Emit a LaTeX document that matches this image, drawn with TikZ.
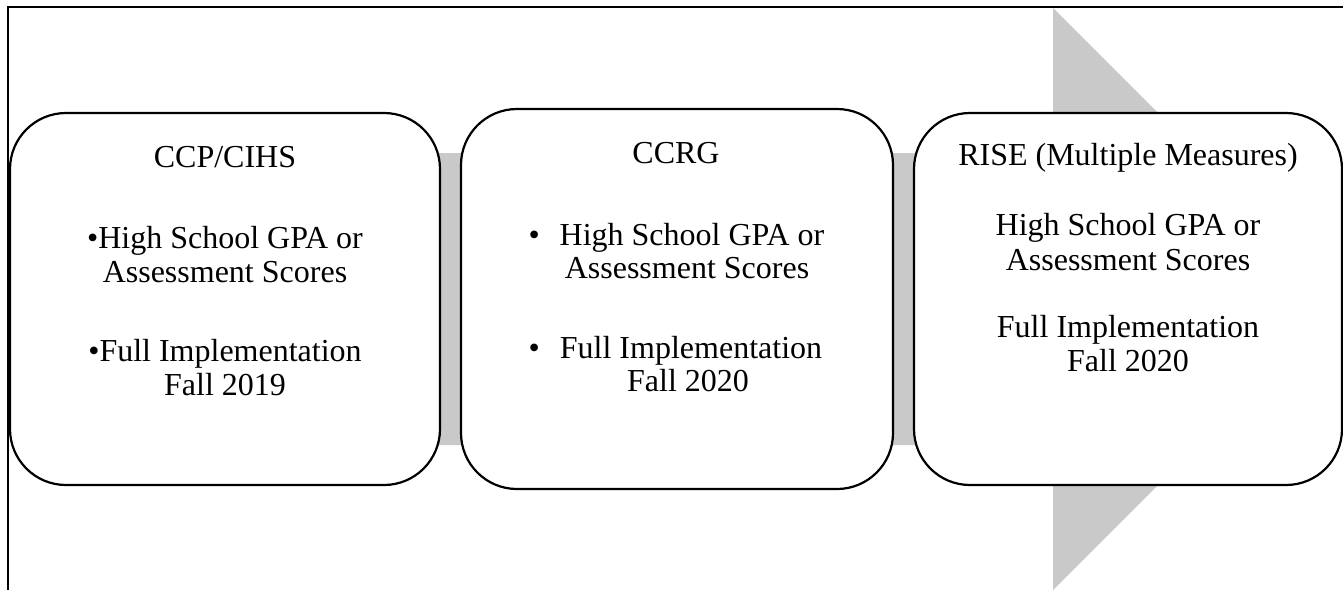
\documentclass[tikz,border=0pt]{standalone}
\usepackage{fontspec}
\setmainfont{Liberation Serif}
\definecolor{arrowgray}{HTML}{C9C9C9}
\tikzset{
  frameline/.style={draw=black, line width=1.6pt},
  stagebox/.style={draw=black, fill=white, line width=2.2pt, rounded corners=56pt, inner sep=0pt},
  txt/.style={inner sep=0pt, anchor=base, font=\fontsize{32}{34}\selectfont, text=black},
  bul/.style={inner sep=0pt, anchor=base east, font=\fontsize{32}{34}\selectfont, text=black}
}
\begin{document}
\begin{tikzpicture}[x=1pt,y=-1pt]
\useasboundingbox (0,0) rectangle (1343,590);
% frame
\coordinate (fbl) at (8,590);
\coordinate (ftl) at (8,7);
\coordinate (ftr) at (1343,7);
\draw[frameline] (fbl) -- (ftl) -- (ftr);
% background arrow
\fill[arrowgray] (40,153) -- (1053,153) -- (1053,8) -- (1344,299) -- (1053,590) -- (1053,445) -- (40,445) -- cycle;
% boxes
\node[stagebox, minimum width=430pt, minimum height=372pt] (b1) at (225,299) {};
\node[stagebox, minimum width=432pt, minimum height=380pt] (b2) at (677,299) {};
\node[stagebox, minimum width=428pt, minimum height=372pt] (b3) at (1128,299) {};
% box 1 text
\node[txt] (b1t) at (225,167) {CCP/CIHS};
\node[txt] (b1a) at (225,248) {•High School GPA or};
\node[txt] (b1b) at (225,282) {Assessment Scores};
\node[txt] (b1c) at (225,361) {•Full Implementation};
\node[txt] (b1d) at (225,395) {Fall 2019};
% box 2 text
\node[txt] (b2t) at (676,163) {CCRG};
\node[txt] (b2a) at (692,245) {High School GPA or};
\node[bul] (b2ab) at (540,245) {•};
\node[txt] (b2b) at (687,278) {Assessment Scores};
\node[txt] (b2c) at (691,358) {Full Implementation};
\node[bul] (b2cb) at (540,358) {•};
\node[txt] (b2d) at (688,391) {Fall 2020};
% box 3 text
\node[txt] (b3t) at (1128,165) {RISE (Multiple Measures)};
\node[txt] (b3a) at (1128,235) {High School GPA or};
\node[txt] (b3b) at (1128,270) {Assessment Scores};
\node[txt] (b3c) at (1128,337) {Full Implementation};
\node[txt] (b3d) at (1128,371) {Fall 2020};
\end{tikzpicture}
\end{document}
